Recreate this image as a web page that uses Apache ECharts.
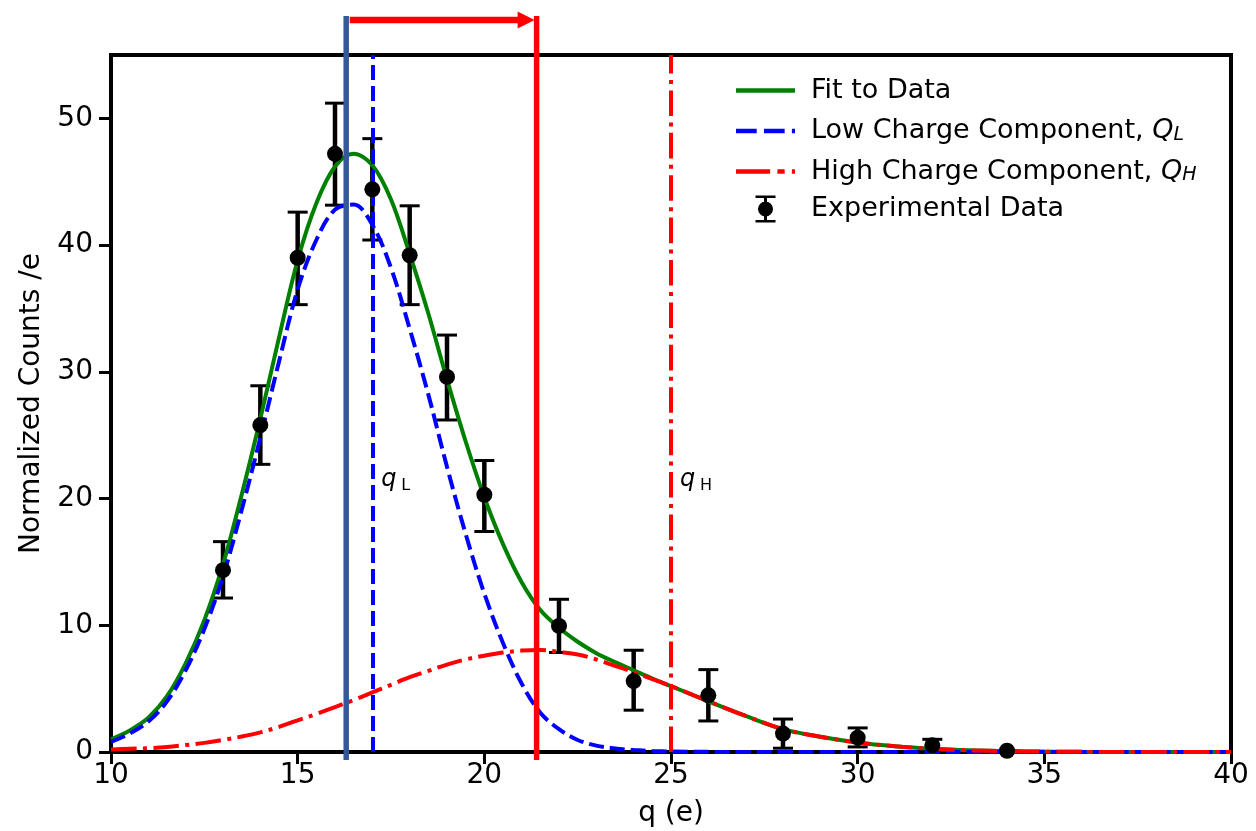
<!DOCTYPE html>
<html>
<head>
<meta charset="utf-8">
<script src="https://cdn.jsdelivr.net/npm/echarts@6/dist/echarts.min.js"></script>
<style>html,body{margin:0;padding:0;background:#fff}#chart{width:1256px;height:831px}</style>
</head>
<body>
<div id="chart"></div>
<script>
// ---- data ----
const qGrid   = [10,10.5,11,11.5,12,12.5,13,13.5,14,14.5,15,15.5,16,16.5,17,17.5,18,18.5,19,19.5,20,20.5,21,21.5,22,22.5,23,23.5,24,24.5,25,26,27,28,29,30,31,32,33,34,35,36,38,40];
const fitVals = [1.0,1.7,2.7,4.4,7.0,10.4,14.8,20.3,26.3,32.7,38.8,43.3,46.2,47.2,46.3,43.6,39.3,34.6,29.4,24.5,20.1,16.4,13.4,11.2,9.8,8.7,7.8,7.1,6.45,5.8,5.2,4.0,2.85,1.8,1.2,0.75,0.45,0.25,0.13,0.07,0.03,0.01,0,0];
const lowVals = [0.8,1.45,2.4,4.0,6.45,9.7,13.85,19.1,24.8,30.8,36.5,40.4,42.8,43.2,41.6,38.2,33.4,28.2,22.5,17.2,12.5,8.6,5.4,3.1,1.8,0.95,0.5,0.28,0.15,0.08,0.04,0.01,0,0,0,0,0,0,0,0,0,0,0,0];
const highVals= [0.2,0.25,0.3,0.4,0.55,0.72,0.95,1.22,1.55,1.98,2.5,3.0,3.55,4.1,4.7,5.3,5.9,6.4,6.9,7.3,7.6,7.85,8.0,8.05,7.9,7.7,7.3,6.8,6.3,5.75,5.2,4.0,2.85,1.8,1.2,0.75,0.45,0.25,0.13,0.07,0.03,0.01,0,0];

const dataQ      = [13,14,15,16,17,18,19,20,22,24,26,28,30,32,34];
const dataCounts = [14.35,25.8,39.0,47.2,44.4,39.2,29.6,20.3,9.95,5.6,4.47,1.45,1.13,0.53,0.1];
const errLow     = [12.15,22.7,35.3,43.15,40.4,35.3,26.2,17.4,7.85,3.3,2.45,0.3,0.4,0.1,0.1];
const errHigh    = [16.6,28.9,42.6,51.2,48.4,43.1,32.9,23.0,12.05,8.03,6.5,2.6,1.9,1.0,0.1];

const thresholdQ = [16.3, 21.4];
const componentQ = [17.0, 25.0];
const componentTags = ['L', 'H'];
const componentLabelY = 21;

const xTicks = [10,15,20,25,30,35,40];
const yTicks = [0,10,20,30,40,50];

const nameFit  = 'Fit to Data';
const nameLow  = 'Low Charge Component, Q_L';
const nameHigh = 'High Charge Component, Q_H';
const nameData = 'Experimental Data';

// ---- styling ----
const FONT = 'DejaVu Sans';
const pair = (xs, ys) => xs.map((x, i) => [x, ys[i]]);
const errIcon    = 'path://M0,0H20V2.6H11.5V24.4H20V27H0V24.4H8.5V2.6H0Z M10,6A7.5,7.5 0 1,1 10,21A7.5,7.5 0 1,1 10,6Z';
const solidIcon  = 'path://M0,0H59V4.5H0Z';
const dashIcon   = 'path://M2,0H22V4.5H2Z M29,0H49V4.5H29Z M56,0H59V4.5H56Z';
const dashDotIcon= 'path://M2,0H35V4.5H2Z M42,0H49V4.5H42Z M56,0H59V4.5H56Z';
const legendText = {};
legendText[nameFit] = 'Fit to Data';
legendText[nameLow] = 'Low Charge Component, {i|Q}{s|L}';
legendText[nameHigh] = 'High Charge Component, {i|Q}{s|H}';
legendText[nameData] = 'Experimental Data';

const chart = echarts.init(document.getElementById('chart'), null, {renderer: 'canvas'});

const option = {
  animation: false,
  backgroundColor: '#ffffff',
  textStyle: {fontFamily: FONT, color: '#000'},
  grid: {left: 111, right: 25, top: 55, bottom: 79, show: true, borderColor: '#000', borderWidth: 4,
         containLabel: false, outerBoundsMode: 'none'},
  legend: {
    orient: 'vertical', left: 731, top: 72,
    itemWidth: 59, itemHeight: 27, itemGap: 10.5,
    selectedMode: false,
    data: [
      {name: nameFit, icon: solidIcon},
      {name: nameLow, icon: dashIcon},
      {name: nameHigh, icon: dashDotIcon},
      {name: nameData, icon: errIcon}
    ],
    formatter: n => legendText[n],
    textStyle: {
      fontFamily: FONT, fontSize: 27, color: '#000', lineHeight: 27, padding: [0, 0, 0, 11],
      rich: {
        i: {fontFamily: FONT, fontStyle: 'italic', fontSize: 27, lineHeight: 27, color: '#000'},
        s: {fontFamily: FONT, fontStyle: 'italic', fontSize: 19, lineHeight: 16, padding: [11, 0, 0, 0], verticalAlign: 'bottom', color: '#000'}
      }
    }
  },
  xAxis: {
    type: 'value', min: 10, max: 40, interval: 5,
    name: 'q (e)', nameLocation: 'middle', nameGap: 48,
    nameTextStyle: {fontFamily: FONT, fontSize: 28, color: '#000'},
    axisLine: {show: true, onZero: false, lineStyle: {color: '#000', width: 4}},
    axisTick: {show: true, length: 12, customValues: xTicks, lineStyle: {color: '#000', width: 3}},
    axisLabel: {fontFamily: FONT, fontSize: 28, color: '#000', margin: 10, customValues: xTicks},
    splitLine: {show: false}
  },
  yAxis: {
    type: 'value', min: 0, max: 55, interval: 10,
    name: 'Normalized Counts /e', nameLocation: 'middle', nameRotate: 90, nameGap: 65,
    nameTextStyle: {fontFamily: FONT, fontSize: 28, color: '#000'},
    axisLine: {show: true, onZero: false, lineStyle: {color: '#000', width: 4}},
    axisTick: {show: true, length: 12, customValues: yTicks, lineStyle: {color: '#000', width: 3}},
    axisLabel: {fontFamily: FONT, fontSize: 28, color: '#000', margin: 18, customValues: yTicks},
    splitLine: {show: false}
  },
  series: [
    {
      name: 'errorbars', type: 'custom', z: 3, silent: true,
      data: dataQ.map((q, i) => [q, errLow[i], errHigh[i]]),
      encode: {x: 0, y: [1, 2]},
      renderItem: (params, api) => {
        const x = api.value(0);
        const lo = api.coord([x, api.value(1)]);
        const hi = api.coord([x, api.value(2)]);
        const hw = 10;
        return {type: 'group', children: [
          {type: 'line', shape: {x1: lo[0], y1: lo[1], x2: hi[0], y2: hi[1]}, style: {stroke: '#000', lineWidth: 4.5}},
          {type: 'line', shape: {x1: lo[0] - hw, y1: lo[1], x2: lo[0] + hw, y2: lo[1]}, style: {stroke: '#000', lineWidth: 3}},
          {type: 'line', shape: {x1: hi[0] - hw, y1: hi[1], x2: hi[0] + hw, y2: hi[1]}, style: {stroke: '#000', lineWidth: 3}}
        ]};
      }
    },
    {
      name: nameFit, type: 'line', z: 4, smooth: 0.35, symbol: 'none', silent: true,
      data: pair(qGrid, fitVals),
      lineStyle: {color: '#008000', width: 4},
      itemStyle: {color: '#008000'}
    },
    {
      name: nameLow, type: 'line', z: 5, smooth: 0.35, symbol: 'none', silent: true,
      data: pair(qGrid, lowVals),
      lineStyle: {color: '#0000ff', width: 4, type: [15, 6]},
      itemStyle: {color: '#0000ff'},
      markLine: {
        silent: true, symbol: ['none', 'none'], label: {show: false},
        lineStyle: {color: '#0000ff', width: 4, type: [15, 6]},
        data: [{xAxis: componentQ[0]}]
      }
    },
    {
      name: nameHigh, type: 'line', z: 6, smooth: 0.35, symbol: 'none', silent: true,
      data: pair(qGrid, highVals),
      lineStyle: {color: '#ff0000', width: 4, type: [25.6, 6.4, 4, 6.4]},
      itemStyle: {color: '#ff0000'},
      markLine: {
        silent: true, symbol: ['none', 'none'], label: {show: false},
        lineStyle: {color: '#ff0000', width: 4, type: [25.6, 6.4, 4, 6.4]},
        data: [{xAxis: componentQ[1]}]
      }
    },
    {
      name: nameData, type: 'scatter', z: 8, symbol: 'circle', symbolSize: 16, silent: true,
      data: pair(dataQ, dataCounts),
      itemStyle: {color: '#000', opacity: 1}
    },
    {
      name: 'componentLabels', type: 'custom', z: 9, silent: true,
      data: componentQ.map(q => [q, componentLabelY]),
      encode: {x: 0, y: 1},
      renderItem: (params, api) => {
        const p = api.coord([api.value(0), api.value(1)]);
        const tag = componentTags[params.dataIndex];
        return {type: 'group', children: [
          {type: 'text', x: p[0] + 9, y: p[1] + 6,
           style: {text: 'q', fontFamily: FONT, fontStyle: 'italic', fontSize: 24, fill: '#000', verticalAlign: 'bottom', align: 'left'}},
          {type: 'text', x: p[0] + 29, y: p[1] + 7.5,
           style: {text: tag, fontFamily: FONT, fontSize: 16, fill: '#000', verticalAlign: 'bottom', align: 'left'}}
        ]};
      }
    },
    {
      name: 'thresholds', type: 'custom', z: 10, silent: true, clip: false,
      data: [[thresholdQ[0], thresholdQ[1]]],
      encode: {x: [0, 1]},
      renderItem: (params, api) => {
        const cs = params.coordSys;
        const xa = api.coord([api.value(0), 0])[0];
        const xb = api.coord([api.value(1), 0])[0];
        const top = cs.y - 39, bottom = cs.y + cs.height + 8, ay = cs.y - 35;
        const headLen = 17, headHalf = 8.5;
        return {type: 'group', children: [
          {type: 'line', shape: {x1: xa, y1: top, x2: xa, y2: bottom}, style: {stroke: '#34589a', lineWidth: 5.5}},
          {type: 'line', shape: {x1: xb, y1: top, x2: xb, y2: bottom}, style: {stroke: '#ff0000', lineWidth: 5.5}},
          {type: 'line', shape: {x1: xa + 3.5, y1: ay, x2: xb - 2 - headLen + 1, y2: ay}, style: {stroke: '#ff0000', lineWidth: 6.5}},
          {type: 'polygon', shape: {points: [[xb - 2 - headLen, ay - headHalf], [xb - 2, ay], [xb - 2 - headLen, ay + headHalf]]}, style: {fill: '#ff0000'}}
        ]};
      }
    }
  ]
};
chart.setOption(option);
</script>
</body>
</html>
